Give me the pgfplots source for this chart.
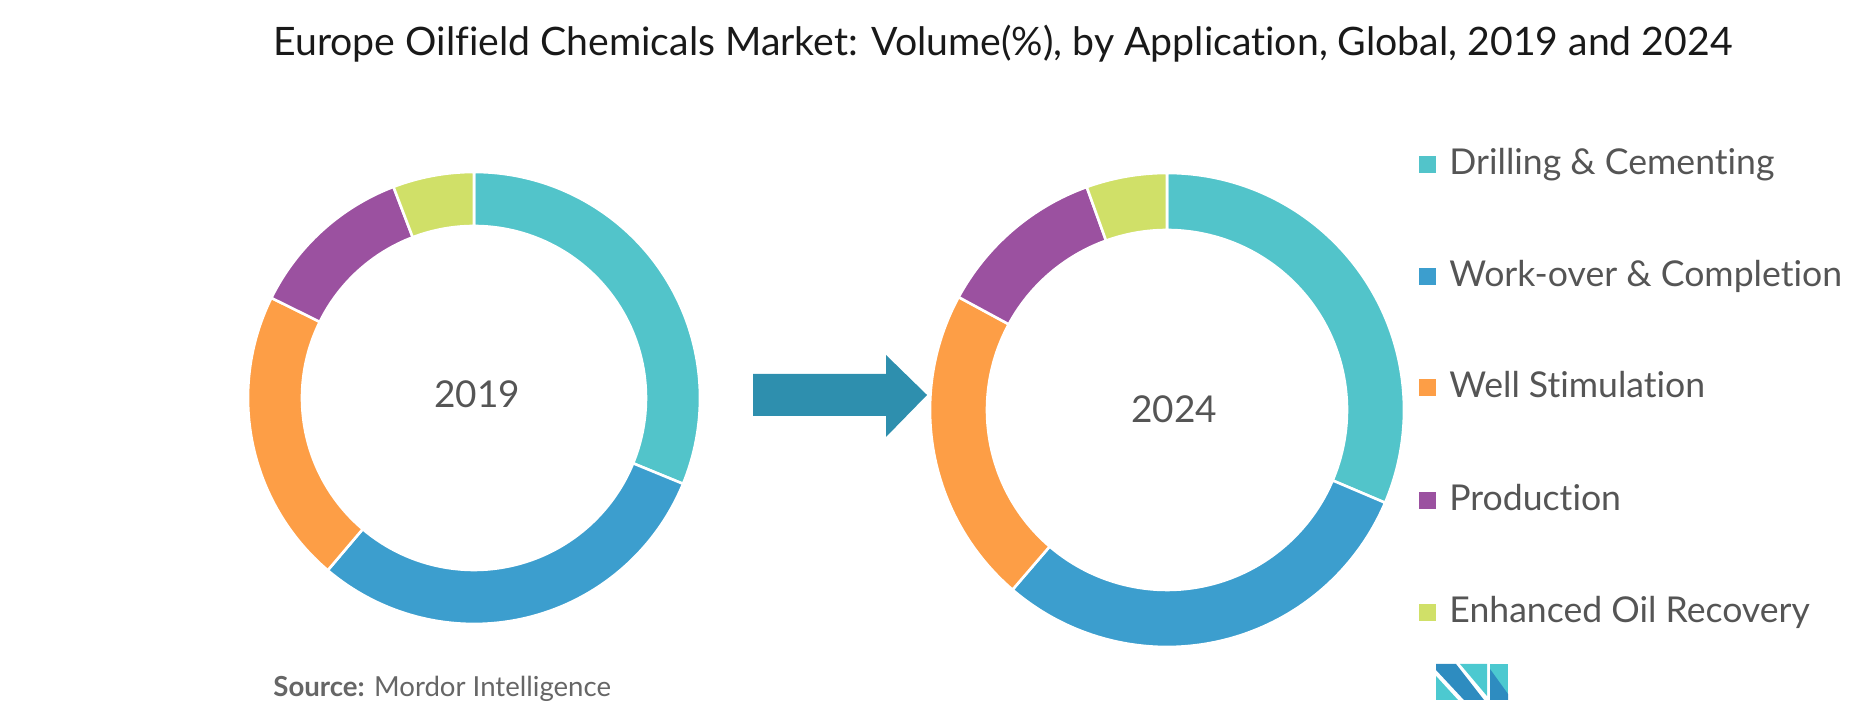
\documentclass[border=0pt]{standalone}
\usepackage{fontspec}
\setmainfont{Lato}[Ligatures={NoCommon}]
\usepackage{pgfplots}
\usepackage{pgfplotstable}
\pgfplotsset{compat=1.18}
\usetikzlibrary{calc}

\definecolor{seg0}{RGB}{82,196,202}   % Drilling & Cementing
\definecolor{seg1}{RGB}{60,158,206}   % Work-over & Completion
\definecolor{seg2}{RGB}{253,158,70}   % Well Stimulation
\definecolor{seg3}{RGB}{155,81,160}   % Production
\definecolor{seg4}{RGB}{208,224,104}  % Enhanced Oil Recovery
\definecolor{arrowteal}{RGB}{46,143,174}
\definecolor{txtgrey}{RGB}{85,85,85}
\definecolor{logoblue}{RGB}{46,140,192}
\definecolor{logoteal}{RGB}{76,201,208}

% volume shares (%), clockwise from 12 o'clock
\pgfplotstableread{
cat p2019 p2024
1 31.2 31.4
2 30.0 29.9
3 21.1 21.6
4 11.9 11.6
5 5.8 5.5
}\shares

% #1 column, #2/#3 centre (px), #4 outer radius (px), #5 inner radius (px)
\newcommand{\donut}[5]{%
  \xdef\cum{0}%
  \pgfmathsetmacro\ro{#4*0.5}%
  \pgfmathsetmacro\ri{#5*0.5}%
  \foreach \i in {0,...,4}{%
    \pgfplotstablegetelem{\i}{#1}\of\shares
    \pgfmathsetmacro\va{\pgfplotsretval}%
    \pgfmathsetmacro\sa{90-3.6*\cum}%
    \pgfmathsetmacro\ea{90-3.6*(\cum+\va)}%
    \filldraw[fill=seg\i, draw=white, line width=1.3pt, line join=round]
      ($(axis cs:#2,#3)+(\sa:\ro pt)$) arc[start angle=\sa, end angle=\ea, radius=\ro pt]
      -- ($(axis cs:#2,#3)+(\ea:\ri pt)$) arc[start angle=\ea, end angle=\sa, radius=\ri pt]
      -- cycle;
    \pgfmathsetmacro\nc{\cum+\va}%
    \xdef\cum{\nc}%
  }%
}

\newcommand{\legitem}[3]{% colour, baseline y (px, top-down), text
  \fill[#1] (axis cs:1419,{721-(#2)+2}) rectangle (axis cs:1436,{721-(#2)+19});
  \node[anchor=base west, inner sep=0pt, text=txtgrey, font=\fontsize{17.8}{20}\selectfont]
    at (axis cs:1449,{721-(#2)}) {#3};
}

\begin{document}
\begin{tikzpicture}
\begin{axis}[
  x=0.5pt, y=0.5pt,
  xmin=0, xmax=1854, ymin=0, ymax=721,
  hide axis, clip=false, disabledatascaling,
]
  \path (axis cs:0,0) rectangle (axis cs:1854,721);

  % title
  \node[anchor=base, inner sep=0pt, text=black!90, font=\fontsize{19.6}{22}\selectfont]
    at (axis cs:1003,665) {Europe Oilfield Chemicals Market: Volume(\%), by Application, Global, 2019 and 2024};

  % donuts
  \pgfplotsextra{\donut{p2019}{474}{323}{226}{172}}
  \pgfplotsextra{\donut{p2024}{1167}{311}{237}{180}}

  \node[anchor=base, inner sep=0pt, text=txtgrey, font=\fontsize{18.5}{20}\selectfont]
    at (axis cs:477,313) {2019};
  \node[anchor=base, inner sep=0pt, text=txtgrey, font=\fontsize{18.5}{20}\selectfont]
    at (axis cs:1174,298) {2024};

  % arrow between the years
  \fill[arrowteal] (axis cs:753,347) -- (axis cs:886,347) -- (axis cs:886,366)
    -- (axis cs:927,326) -- (axis cs:886,284) -- (axis cs:886,305)
    -- (axis cs:753,305) -- cycle;

  % legend
  \legitem{seg0}{175}{Drilling \& Cementing}
  \legitem{seg1}{287}{Work-over \& Completion}
  \legitem{seg2}{398}{Well Stimulation}
  \legitem{seg3}{511}{Production}
  \legitem{seg4}{623}{Enhanced Oil Recovery}

  % source
  \node[anchor=base west, inner sep=0pt, text=black!60, font=\fontsize{13.8}{16}\selectfont]
    at (axis cs:273,24) {\textbf{Source:} Mordor Intelligence};

  % logo
  \fill[logoblue] (axis cs:1436,57) -- (axis cs:1456,57) -- (axis cs:1484,21)
    -- (axis cs:1464,21) -- (axis cs:1436,51) -- cycle;
  \fill[logoteal] (axis cs:1436,45) -- (axis cs:1436,21) -- (axis cs:1458,21) -- cycle;
  \fill[logoteal] (axis cs:1460,57) -- (axis cs:1487,57) -- (axis cs:1487,25) -- cycle;
  \fill[logoteal] (axis cs:1490,57) -- (axis cs:1508,57) -- (axis cs:1508,21) -- (axis cs:1490,21) -- cycle;
  \fill[logoblue] (axis cs:1490,52) -- (axis cs:1508,27) -- (axis cs:1508,21) -- (axis cs:1490,21) -- cycle;
\end{axis}
\end{tikzpicture}
\end{document}
